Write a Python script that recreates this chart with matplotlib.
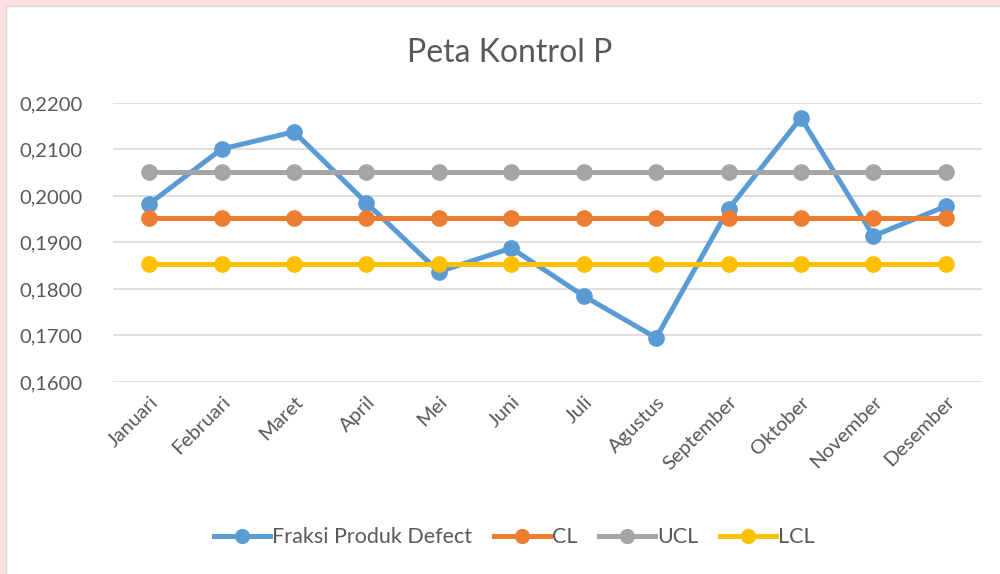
import matplotlib.pyplot as plt
from matplotlib.patches import Rectangle

bulan = ['Januari', 'Februari', 'Maret', 'April', 'Mei', 'Juni', 'Juli',
         'Agustus', 'September', 'Oktober', 'November', 'Desember']
fraksi = [0.1983, 0.2101, 0.2138, 0.1985, 0.1837, 0.1888, 0.1785,
          0.1695, 0.1972, 0.2168, 0.1914, 0.1978]
cl = [0.1953] * 12
ucl = [0.2052] * 12
lcl = [0.1854] * 12
y_ticks = [0.16, 0.17, 0.18, 0.19, 0.20, 0.21, 0.22]

plt.rcParams['font.family'] = ['Lato', 'DejaVu Sans']
teks = '#595959'

fig = plt.figure(figsize=(10, 5.74), dpi=100, facecolor='#fde2e4')
# area chart putih dengan garis tepi abu-abu tipis
fig.patches.append(Rectangle((0.006, -0.01), 1.0, 1.0, transform=fig.transFigure,
                             facecolor='white', edgecolor='#d9d9d9', linewidth=1,
                             zorder=-10))

ax = fig.add_axes([0.113, 0.3345, 0.869, 0.4861])
x = range(len(bulan))
ax.plot(x, fraksi, color='#5b9bd5', lw=3.6, marker='o', ms=11, label='Fraksi Produk Defect')
ax.plot(x, cl, color='#ed7d31', lw=3.6, marker='o', ms=11, label='CL')
ax.plot(x, ucl, color='#a5a5a5', lw=3.6, marker='o', ms=11, label='UCL')
ax.plot(x, lcl, color='#ffc000', lw=3.6, marker='o', ms=11, label='LCL')

ax.set_xlim(-0.5, 11.5)
ax.set_ylim(0.16, 0.22)
ax.set_yticks(y_ticks)
ax.set_yticklabels([('%.4f' % v).replace('.', ',') for v in y_ticks])
ax.set_xticks(list(x))
ax.set_xticklabels(bulan, rotation=45, ha='right', rotation_mode='anchor')
ax.tick_params(axis='both', length=0, labelsize=14.5, labelcolor=teks)
ax.tick_params(axis='y', pad=22)
ax.tick_params(axis='x', pad=8)
ax.grid(axis='y', color='#d9d9d9', lw=1.2)
ax.set_axisbelow(True)
for s in ax.spines.values():
    s.set_visible(False)
ax.patch.set_alpha(0)

fig.text(0.51, 0.908, 'Peta Kontrol P', ha='center', va='center', fontsize=23, color=teks)
ax.legend(loc='center', bbox_to_anchor=(0.462, -0.556), ncol=4, frameon=False,
          fontsize=15.5, labelcolor=teks, handlelength=2.6, handletextpad=0.1,
          columnspacing=1.0, markerscale=0.9)

fig.savefig('out.png', dpi=100, facecolor=fig.get_facecolor())
